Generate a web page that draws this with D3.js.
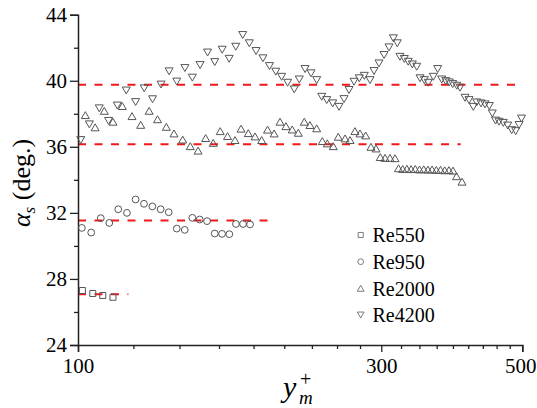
<!DOCTYPE html>
<html>
<head>
<meta charset="utf-8">
<script src="https://cdn.jsdelivr.net/npm/d3@7"></script>
<style>
  body { margin: 0; background: #fff; }
</style>
</head>
<body>
<script>
// alpha_s vs y_m+ for four Reynolds numbers, mean lines dashed red

var re550X = [101.6, 105.5, 109.4, 113.5];
var re550Y = [27.30, 27.12, 27.00, 26.89];

var re950X = [101.4, 104.9, 108.6, 112.0, 115.7, 119.4, 123.2, 127.0, 130.9, 134.9, 138.9,
  143.0, 147.2, 151.3, 155.4, 159.6, 164.1, 168.5, 173.0, 177.2, 181.8, 186.5];
var re950Y = [31.09, 30.81, 31.68, 31.39, 32.22, 32.00, 32.81, 32.55, 32.39, 32.22, 32.04,
  31.05, 30.97, 31.70, 31.60, 31.50, 30.75, 30.73, 30.71, 31.33, 31.33, 31.30];

var re2000X = [102.7, 106.4, 110.0, 113.5, 117.4, 121.6, 125.5, 129.4, 133.4, 137.7,
  141.6, 146.1, 150.2, 154.5, 158.8, 163.2, 167.4, 171.9, 176.6, 180.5,
  185.3, 189.9, 194.5, 198.7, 203.5, 207.9, 212.4, 217.3, 222.1, 227.0,
  231.7, 237.4, 242.3, 246.7, 252.1, 256.7, 263.1, 267.9, 272.7, 277.7,
  283.5, 289.0, 294.3, 298.9, 304.1, 309.6, 315.3,
  319.3, 324.2, 329.2, 334.2, 339.3, 344.5, 349.8, 355.2, 360.6, 366.2, 371.8, 377.5, 383.3, 389.0,
  394.0, 401.9];
var re2000Y = [37.92, 37.18, 38.18, 37.52, 38.47, 37.86, 37.33, 38.18, 37.67, 37.21,
  36.81, 36.44, 36.04, 35.77, 36.53, 36.24, 36.95, 36.65, 36.41, 37.10,
  36.83, 36.63, 36.41, 37.04, 36.81, 37.52, 37.25, 37.05, 36.85, 37.52,
  37.32, 37.12, 36.35, 36.21, 36.04, 36.61, 36.51, 36.41, 36.95, 36.81,
  36.69, 36.00, 35.90, 35.38, 35.33, 35.33, 35.31,
  34.70, 34.66, 34.67, 34.65, 34.66, 34.63, 34.64, 34.62, 34.63, 34.60, 34.61, 34.58, 34.59, 34.56,
  34.22, 33.89];

var re4200X = [101.0, 104.2, 108.0, 111.7, 115.3, 119.1, 123.2, 127.1, 131.0, 135.1,
  139.1, 143.0, 147.3, 151.3, 155.6, 159.9, 164.1, 168.6, 172.9, 177.1,
  181.6, 186.0, 190.6, 195.4, 200.1, 204.7, 209.1, 213.7, 218.9, 222.9,
  227.6, 232.6, 237.4, 241.8, 246.2, 251.6, 257.4, 262.1, 266.9, 271.8,
  277.0, 282.1, 288.0, 292.2, 297.5, 303.0, 308.5, 313.4, 317.9, 321.0,
  326.1, 330.8, 335.7, 341.1, 345.2, 350.6, 355.7, 362.2, 368.0, 373.4,
  378.9, 383.8, 388.6, 394.3, 399.0, 406.3, 412.2, 418.7, 423.9, 430.5,
  436.8, 443.7, 448.5, 453.8, 459.6, 466.7, 474.3, 481.2, 488.2, 494.1,
  498.6];
var re4200Y = [36.41, 37.36, 38.33, 37.57, 38.50, 39.41, 38.71, 39.54, 38.88, 39.77,
  40.57, 39.95, 40.77, 40.19, 40.95, 41.71, 41.13, 41.88, 41.33, 42.06,
  42.77, 42.27, 41.80, 41.36, 40.89, 40.55, 40.24, 39.88, 39.48, 40.08,
  40.71, 40.45, 40.04, 39.03, 38.83, 38.63, 38.42, 38.89, 39.44, 39.94,
  40.15, 40.30, 40.04, 40.59, 41.05, 41.56, 42.02, 42.57, 42.27, 41.45,
  41.32, 41.15, 40.99, 40.85, 40.15, 40.04, 39.88, 40.24, 40.71, 40.08,
  39.98, 39.90, 39.80, 39.70, 39.58, 38.97, 38.83, 38.42, 38.69, 38.63,
  38.57, 38.47, 38.02, 37.59, 37.52, 37.45, 37.29, 37.01, 36.95, 37.32,
  37.71];

// dashed mean lines: value, x start, x end
var meanVal = [27.07, 31.54, 36.15, 39.76];
var meanFrom = [100, 100, 100, 100];
var meanTo = [120, 200, 400, 500];

var seriesNames = ["Re550", "Re950", "Re2000", "Re4200"];
var xTicks = [100, 300, 500];
var yTicks = [24, 28, 32, 36, 40, 44];
var yMinor = [26, 30, 34, 38, 42];

var FONT = "'Liberation Serif'";

var W = 537, H = 408;
var svg = d3.select("body").append("svg")
  .attr("width", W)
  .attr("height", H);

var x = d3.scaleLog().domain([100, 500]).range([78, 522.3]);
var y = d3.scaleLinear().domain([24, 44]).range([345, 14.7]);

// marker shapes, centred on their bounding box like the original
var side = 8, th = side * 0.866;
var triUp = { draw: function (c) {
  c.moveTo(0, -th / 2); c.lineTo(side / 2, th / 2); c.lineTo(-side / 2, th / 2); c.closePath();
} };
var triDown = { draw: function (c) {
  c.moveTo(0, th / 2); c.lineTo(side / 2, -th / 2); c.lineTo(-side / 2, -th / 2); c.closePath();
} };
var square = { draw: function (c) { c.rect(-3, -3, 6, 6); } };
var circle = { draw: function (c) { c.moveTo(3.4, 0); c.arc(0, 0, 3.4, 0, 2 * Math.PI); } };
var shapes = [square, circle, triUp, triDown];

// mean lines
var means = d3.range(meanVal.length);
svg.append("g").selectAll("line")
  .data(means).enter().append("line")
  .attr("x1", function (i) { return x(meanFrom[i]); })
  .attr("x2", function (i) { return x(meanTo[i]); })
  .attr("y1", function (i) { return y(meanVal[i]); })
  .attr("y2", function (i) { return y(meanVal[i]); })
  .attr("stroke", "#f01818")
  .attr("stroke-width", 2)
  .attr("stroke-dasharray", "8,8.5");

// axes
var gx = svg.append("g").attr("transform", "translate(0," + y(24) + ")");
gx.call(d3.axisBottom(x).tickValues(xTicks).tickFormat(d3.format("d")).tickSize(7).tickPadding(6));
var xMinor = d3.range(100 + 200 / 9, 499, 200 / 9).filter(function (v) { return Math.abs(v - 300) > 1; });
gx.append("g").call(d3.axisBottom(x).tickValues(xMinor).tickFormat("").tickSize(4))
  .select(".domain").remove();
// last label sits at the right edge, pull it in a touch
gx.selectAll(".tick text").filter(function (d) { return d === 500; }).attr("dx", -2);

var gy = svg.append("g").attr("transform", "translate(" + x(100) + ",0)");
gy.call(d3.axisLeft(y).tickValues(yTicks).tickSize(8).tickPadding(3));
gy.append("g").call(d3.axisLeft(y).tickValues(yMinor).tickFormat("").tickSize(4))
  .select(".domain").remove();

svg.selectAll("g").attr("font-family", FONT).attr("font-size", 21);
svg.selectAll(".domain").attr("stroke", "#222").attr("stroke-width", 1.5);
svg.selectAll(".tick line").attr("stroke", "#222").attr("stroke-width", 1.3);
svg.selectAll(".tick text")
  .style("font-family", FONT)
  .style("font-size", "21px")
  .attr("fill", "#000");

// series points
var allX = [re550X, re950X, re2000X, re4200X];
var allY = [re550Y, re950Y, re2000Y, re4200Y];
var gPts = svg.append("g");
for (var s = 0; s < 4; s++) {
  var pts = d3.zip(allX[s], allY[s]);
  gPts.append("g").selectAll("path")
    .data(pts).enter().append("path")
    .attr("d", d3.symbol().type(shapes[s]))
    .attr("transform", function (d) { return "translate(" + x(d[0]) + "," + y(d[1]) + ")"; })
    .attr("fill", "none")
    .attr("stroke", "#555")
    .attr("stroke-width", 1);
}

// legend
var legY = [235, 261.7, 288.3, 315];
var leg = svg.append("g");
leg.selectAll("path")
  .data(seriesNames).enter().append("path")
  .attr("d", function (d, i) { return d3.symbol().type(shapes[i])(); })
  .attr("transform", function (d, i) { return "translate(360.7," + legY[i] + ") scale(0.85)"; })
  .attr("fill", "none")
  .attr("stroke", "#666")
  .attr("stroke-width", 1);
leg.selectAll("text")
  .data(seriesNames).enter().append("text")
  .attr("x", 372.5)
  .attr("y", function (d, i) { return legY[i] + 7.3; })
  .style("font-family", FONT)
  .style("font-size", "20px")
  .text(function (d) { return d; });

// y title
var yt = svg.append("text")
  .attr("transform", "translate(30,183) rotate(-90)")
  .attr("text-anchor", "middle")
  .style("font-family", FONT)
  .style("font-size", "26px");
yt.append("tspan").style("font-style", "italic").text("α");
yt.append("tspan").style("font-style", "italic").style("font-size", "17px").attr("dy", 5).text("s");
yt.append("tspan").attr("dy", -5).text(" (deg.)");

// x title: y with subscript m and superscript +
var xt = svg.append("text")
  .attr("x", 283).attr("y", 397)
  .style("font-family", FONT)
  .style("font-size", "30px").style("font-style", "italic");
xt.append("tspan").text("y");
xt.append("tspan").attr("x", 300).attr("dy", -11)
  .style("font-size", "20px").style("font-style", "normal").text("+");
xt.append("tspan").attr("x", 299).attr("dy", 18)
  .style("font-size", "19px").text("m");
</script>
</body>
</html>
